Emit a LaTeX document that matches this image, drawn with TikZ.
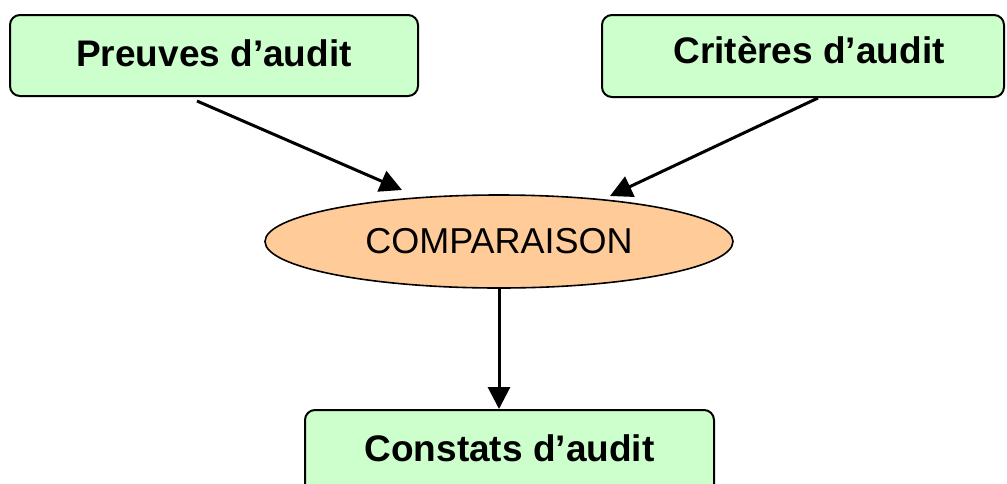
\documentclass[tikz,border=0pt]{standalone}
\usepackage{fontspec}
\setmainfont{Liberation Sans}
\usetikzlibrary{arrows.meta,shapes.geometric}
\definecolor{boxgreen}{RGB}{204,255,204}
\definecolor{ellorange}{RGB}{255,204,153}
\begin{document}
\begin{tikzpicture}[x=1pt,y=-1pt,
  box/.style={draw=black, line width=2pt, rounded corners=10pt, fill=boxgreen,
    font=\fontsize{37}{40}\selectfont\bfseries, inner sep=0pt, text height=26.5pt},
  ell/.style={ellipse, draw=black, line width=1.6pt, fill=ellorange, inner sep=0pt,
    minimum width=468pt, minimum height=93pt, font=\fontsize{36}{40}\selectfont,
    text height=26pt, text depth=2pt},
  conn/.style={line width=3pt, -{Triangle[length=22pt,width=22pt]}}]
\clip (0,0) rectangle (1007,483);
\node[box, minimum width=408pt, minimum height=81pt, text depth=5pt] (p1) at (214,55.5) {Preuves d’audit};
\node[box, minimum width=402pt, minimum height=82pt, text depth=12pt] (p2) at (803,56) {\hspace*{12pt}Critères d’audit};
\node[box, minimum width=409pt, minimum height=90pt, text depth=14pt] (p3) at (509.5,455) {Constats d’audit};
\node[ell] (cmp) at (499,241.5) {COMPARAISON};
\coordinate (s1) at ([shift={(-17,4)}]p1.south);
\coordinate (e1) at ([shift={(-97,-51.5)}]cmp.center);
\coordinate (s2) at ([shift={(15,0)}]p2.south);
\coordinate (e2) at ([shift={(111,-45.5)}]cmp.center);
\draw[conn] (s1) -- (e1);
\draw[conn] (s2) -- (e2);
\draw[conn] (cmp.south) -- (p3.north -| cmp.south);
\end{tikzpicture}
\end{document}
